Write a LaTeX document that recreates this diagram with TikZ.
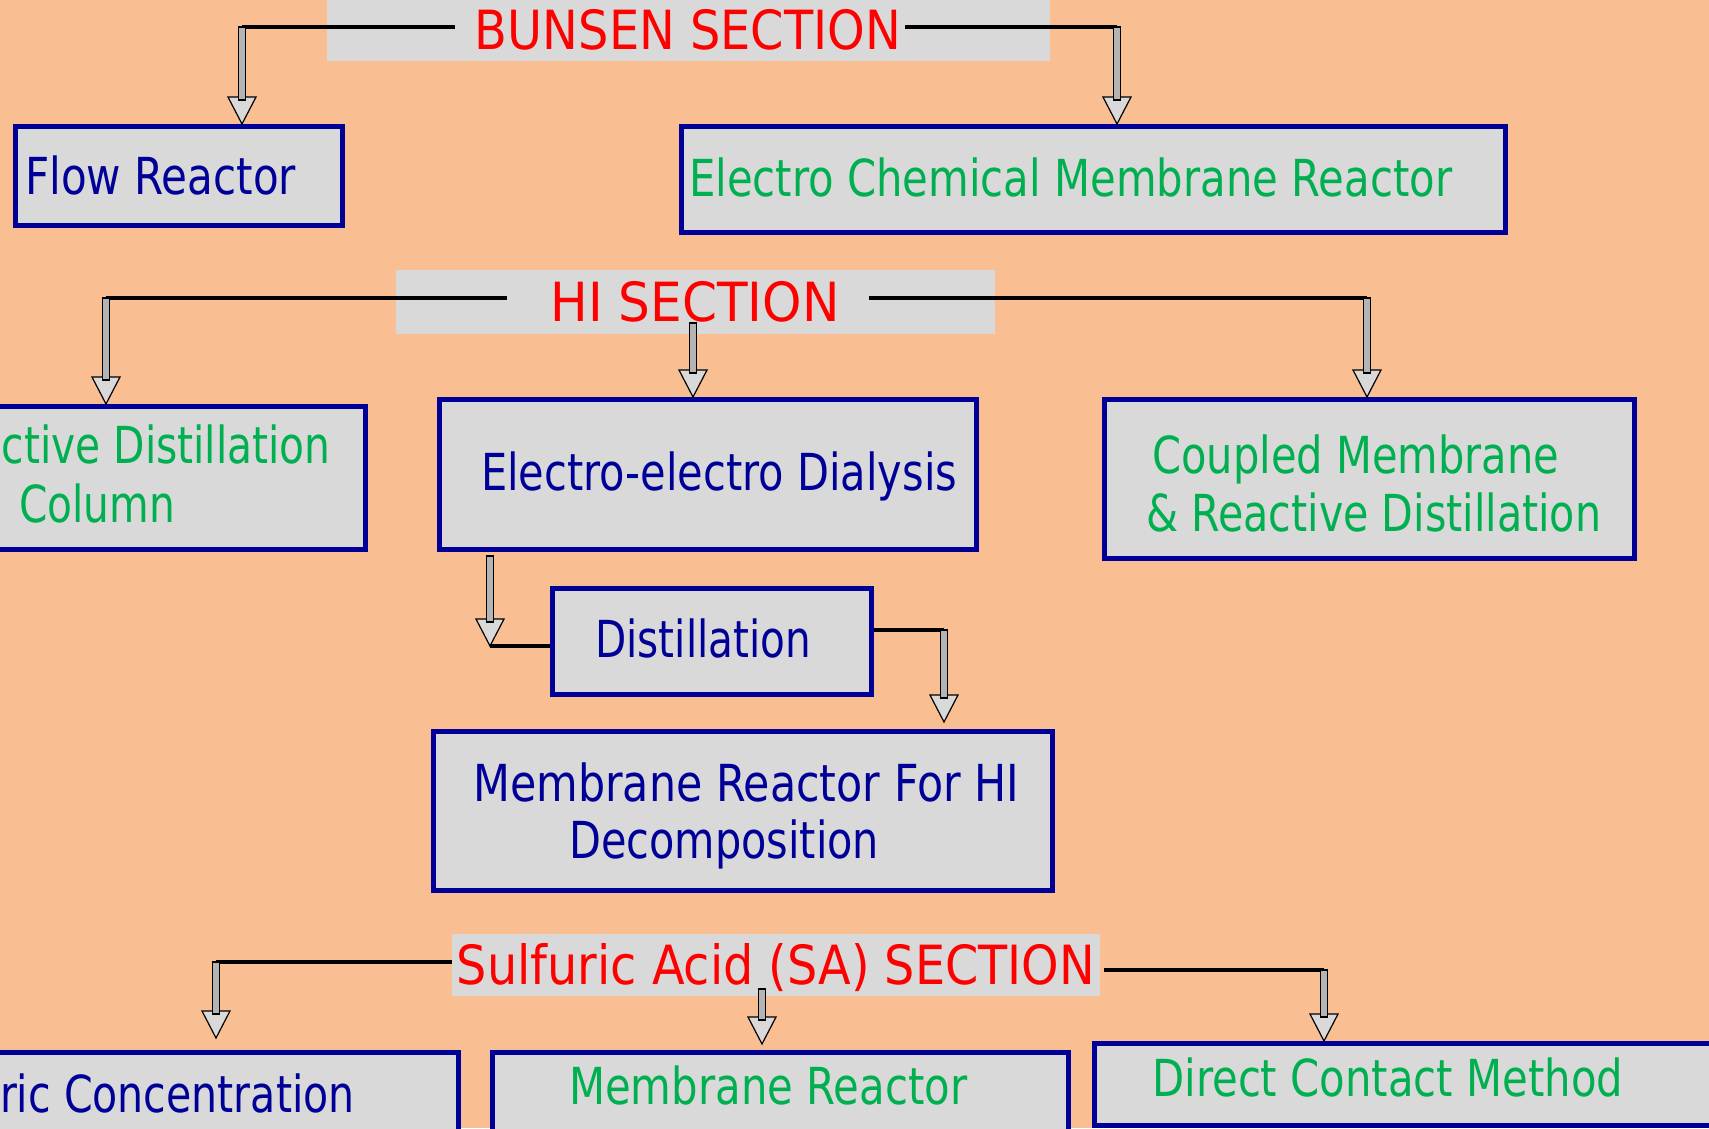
\documentclass[tikz,border=0pt]{standalone}
\usepackage{fontspec}
\setmainfont{DejaVu Sans}
\usetikzlibrary{calc}
\definecolor{bgor}{RGB}{249,190,146}
\definecolor{boxgray}{RGB}{217,217,217}
\definecolor{navy}{RGB}{0,0,153}
\definecolor{grn}{RGB}{0,176,80}
\definecolor{shaftgray}{RGB}{180,180,180}
\newcommand\fw[2]{\resizebox{#1pt}{\height}{#2}}
\newcommand\blockarr[2]{%
  \path (#1) coordinate (ba-s);
  \path (#2) coordinate (ba-e);
  \filldraw[fill=boxgray,draw=black,line width=1.2pt,line join=miter]
    ($(ba-e)+(-14,-27)$) -- ($(ba-e)+(14,-27)$) -- (ba-e) -- cycle;
  \filldraw[fill=shaftgray,draw=black,line width=1.2pt]
    ($(ba-s)+(-3.5,0)$) rectangle ($(ba-e)+(3.5,-24)$);
}
\begin{document}
\begin{tikzpicture}[x=1pt,y=-1pt,
  box/.style={draw=navy,line width=5pt,fill=boxgray,inner sep=0pt,anchor=north west},
  sect/.style={fill=boxgray,inner sep=0pt,text=red,font=\fontsize{54}{60}\selectfont,text height=39pt,text depth=0pt},
  bt/.style={inner sep=0pt,font=\fontsize{51}{60}\selectfont,anchor=base west},
  conn/.style={line width=4.5pt,draw=black}]
\useasboundingbox (0,0) rectangle (1709,1128);
\clip (0,0) rectangle (1709,1128);
\fill[bgor] (0,0) rectangle (1709,1128);

% section titles
\node[sect,minimum width=723,minimum height=62] (bunsen) at (688,30) {\fw{426}{BUNSEN SECTION}};
\node[sect,minimum width=599,minimum height=64] (hisec) at (695,302) {\fw{289}{HI SECTION}};
\node[sect,minimum width=648,minimum height=62] (sasec) at (776,965) {\fw{638}{Sulfuric Acid (SA) SECTION}};

% boxes
\node[box,minimum width=327,minimum height=99] (flow) at (13,124) {};
\node[box,minimum width=824,minimum height=106] (ecmr) at (679,124) {};
\node[box,minimum width=393,minimum height=143] (rdc) at (-30,404) {};
\node[box,minimum width=537,minimum height=150] (eed) at (437,397) {};
\node[box,minimum width=530,minimum height=159] (cmrd) at (1102,397) {};
\node[box,minimum width=319,minimum height=106] (dist) at (550,586) {};
\node[box,minimum width=619,minimum height=159] (mrhi) at (431,729) {};
\node[box,minimum width=486,minimum height=110] (sac) at (-30,1050) {};
\node[box,minimum width=576,minimum height=110] (mrsa) at (490,1050) {};
\node[box,minimum width=638,minimum height=82] (dcm) at (1092,1041) {};

% box texts
\node[bt,text=navy] (flowt) at (25,194) {\fw{271}{Flow Reactor}};
\node[bt,text=grn] (ecmrt) at (689,196) {\fw{763}{Electro Chemical Membrane Reactor}};
\node[bt,text=grn,anchor=base east] (rdct1) at (331,463) {\scalebox{0.80}[1]{Reactive Distillation}};
\node[bt,text=grn] (rdct2) at (19,522) {\fw{156}{Column}};
\node[bt,text=navy] (eedt) at (481,490) {\fw{476}{Electro-electro Dialysis}};
\node[bt,text=grn] (cmrdt1) at (1152,473) {\fw{407}{Coupled Membrane}};
\node[bt,text=grn] (cmrdt2) at (1146,531) {\fw{455}{\& Reactive Distillation}};
\node[bt,text=navy] (distt) at (595,657) {\fw{216}{Distillation}};
\node[bt,text=navy] (mrhit1) at (473,801) {\fw{546}{Membrane Reactor For HI}};
\node[bt,text=navy] (mrhit2) at (569,858) {\fw{310}{Decomposition}};
\node[bt,text=navy,anchor=base east] (sact) at (355,1112) {\scalebox{0.806}[1]{Sulfuric Concentration}};
\node[bt,text=grn] (mrsat) at (569,1104) {\fw{398}{Membrane Reactor}};
\node[bt,text=grn] (dcmt) at (1152,1096) {\fw{471}{Direct Contact Method}};

% connector points
\coordinate (bL) at (455,27);  \coordinate (bLc) at (242,27);
\coordinate (bR) at (905,27);  \coordinate (bRc) at (1117,27);
\coordinate (hL) at (507,298); \coordinate (hLc) at (106,298);
\coordinate (hR) at (869,298); \coordinate (hRc) at (1367,298);
\coordinate (hM) at (693,323);
\coordinate (dA) at (490,556); \coordinate (dJ) at (490,646);
\coordinate (dRc) at (944,630);
\coordinate (sL) at (452,962); \coordinate (sLc) at (216,962);
\coordinate (sM) at (762,989);
\coordinate (sR) at (1104,970); \coordinate (sRc) at (1324,970);

% BUNSEN
\draw[conn] (bL) -- (bLc);
\blockarr{bLc}{bLc |- flow.north}
\draw[conn] (bR) -- (bRc);
\blockarr{bRc}{bRc |- ecmr.north}
% HI
\draw[conn] (hL) -- (hLc);
\blockarr{hLc}{hLc |- rdc.north}
\draw[conn] (hR) -- (hRc);
\blockarr{hRc}{hRc |- cmrd.north}
\blockarr{hM}{hM |- eed.north}
% Distillation
\draw[conn] (dJ) -- (dJ -| dist.west);
\blockarr{dA}{dJ}
\draw[conn] (dRc -| dist.east) -- (dRc);
\blockarr{dRc}{944,722}
% SA
\draw[conn] (sL) -- (sLc);
\blockarr{sLc}{216,1038}
\blockarr{sM}{762,1044}
\draw[conn] (sR) -- (sRc);
\blockarr{sRc}{sRc |- dcm.north}
\end{tikzpicture}
\end{document}
